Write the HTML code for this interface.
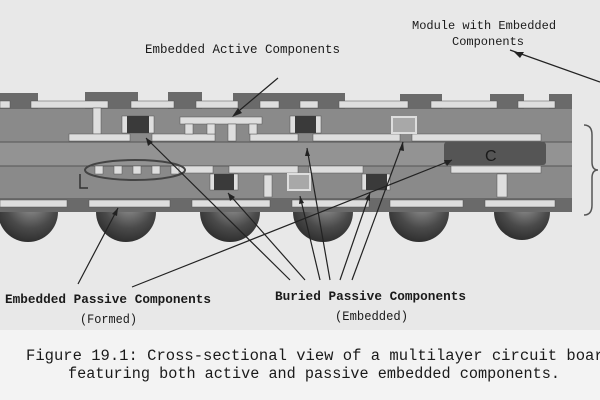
<!DOCTYPE html>
<html><head><meta charset="utf-8"><style>
html,body{margin:0;padding:0;width:600px;height:400px;overflow:hidden;background:#f1f1f1}
svg{display:block}
text{font-family:"Liberation Mono",monospace;fill:#1a1a1a}
</style></head><body>
<svg width="600" height="400" viewBox="0 0 600 400" xmlns="http://www.w3.org/2000/svg">
<defs>
<radialGradient id="ball" cx="0.55" cy="0.35" r="0.7"><stop offset="0" stop-color="#9a9a9a"/><stop offset="0.6" stop-color="#4a4a4a"/><stop offset="1" stop-color="#2a2a2a"/></radialGradient>
<clipPath id="bc"><rect x="0" y="208" width="600" height="60"/></clipPath>
</defs>
<rect x="0" y="0" width="600" height="330" fill="#e8e8e8"/>
<rect x="0" y="330" width="600" height="70" fill="#f3f3f3"/>
<g clip-path="url(#bc)" fill="url(#ball)">
<circle cx="28" cy="212" r="30"/><circle cx="126" cy="212" r="30"/><circle cx="230" cy="212" r="30"/>
<circle cx="323" cy="212" r="30"/><circle cx="419" cy="212" r="30"/><circle cx="522" cy="212" r="28"/>
</g>
<rect x="0" y="197" width="572" height="15" fill="#6a6a6a"/>
<rect x="0" y="108" width="572" height="90" fill="#8a8a8a"/>
<rect x="0" y="142" width="572" height="24" fill="#939393"/>
<line x1="0" y1="142" x2="572" y2="142" stroke="#555" stroke-width="1"/>
<line x1="0" y1="166" x2="572" y2="166" stroke="#555" stroke-width="1"/>
<line x1="0" y1="108" x2="572" y2="108" stroke="#444" stroke-width="1"/>
<g fill="#6a6a6a">
<rect x="0" y="93" width="38" height="16"/><rect x="85" y="92" width="53" height="17"/><rect x="168" y="92" width="34" height="17"/>
<rect x="233" y="93" width="112" height="16"/><rect x="400" y="94" width="42" height="15"/><rect x="490" y="94" width="34" height="15"/>
<rect x="549" y="94" width="23" height="15"/>
</g>
<g fill="#dedede" stroke="#555" stroke-width="0.5">
<rect x="0" y="101" width="10" height="7"/><rect x="31" y="101" width="77" height="7"/><rect x="131" y="101" width="43" height="7"/>
<rect x="196" y="101" width="42" height="7"/><rect x="260" y="101" width="19" height="7"/><rect x="300" y="101" width="18" height="7"/>
<rect x="339" y="101" width="69" height="7"/><rect x="431" y="101" width="66" height="7"/><rect x="518" y="101" width="37" height="7"/>
<rect x="93" y="108" width="8" height="26"/>
<rect x="69" y="134" width="61" height="7"/><rect x="152" y="134" width="63" height="7"/><rect x="250" y="134" width="48" height="7"/>
<rect x="313" y="134" width="87" height="7"/><rect x="412" y="134" width="129" height="7"/>
<rect x="180" y="117" width="82" height="7"/>
<rect x="185" y="124" width="8" height="10"/><rect x="207" y="124" width="8" height="10"/><rect x="228" y="124" width="8" height="17"/><rect x="249" y="124" width="8" height="10"/>
<rect x="122" y="116" width="32" height="17"/><rect x="290" y="116" width="31" height="17"/>
<rect x="171" y="166" width="42" height="7"/><rect x="229" y="166" width="69" height="7"/><rect x="309" y="166" width="54" height="7"/><rect x="451" y="166" width="90" height="7"/>
<rect x="95" y="166" width="8" height="8"/><rect x="114" y="166" width="8" height="8"/><rect x="133" y="166" width="8" height="8"/><rect x="152" y="166" width="8" height="8"/><rect x="171" y="166" width="8" height="8"/>
<rect x="210" y="174" width="28" height="16"/><rect x="362" y="174" width="28" height="16"/>
<rect x="264" y="175" width="8" height="22"/><rect x="497" y="174" width="10" height="23"/>
<rect x="0" y="200" width="67" height="7"/><rect x="89" y="200" width="81" height="7"/><rect x="192" y="200" width="78" height="7"/>
<rect x="292" y="200" width="77" height="7"/><rect x="390" y="200" width="73" height="7"/><rect x="485" y="200" width="70" height="7"/>
</g>
<g fill="#3a3a3a">
<rect x="127" y="116" width="22" height="17"/><rect x="295" y="116" width="21" height="17"/>
<rect x="214" y="174" width="20" height="16"/><rect x="366" y="174" width="21" height="16"/>
</g>
<g fill="#a8a8a8" stroke="#ddd" stroke-width="2">
<rect x="392" y="117" width="24" height="16"/><rect x="288" y="174" width="22" height="16"/>
</g>
<rect x="444" y="142" width="102" height="23" rx="3" fill="#555"/>
<text x="485" y="161" font-size="16" style="font-family:'Liberation Sans',sans-serif" fill="#222">C</text>
<ellipse cx="135" cy="170" rx="50" ry="10" fill="none" stroke="#444" stroke-width="2"/>
<path d="M80 174 V188 H88" fill="none" stroke="#333" stroke-width="1.5"/>
<path d="M584 125 Q592 125 592 135 V162 Q592 170 598 170 Q592 170 592 178 V205 Q592 215 584 215" fill="none" stroke="#555" stroke-width="1.5"/>
<g stroke="#222" stroke-width="1.2" fill="none">
<line x1="278" y1="78" x2="234" y2="115"/>
<line x1="510" y1="50" x2="600" y2="82"/>
<line x1="78" y1="284" x2="118" y2="208"/>
<line x1="132" y1="287" x2="452" y2="160"/>
<line x1="290" y1="280" x2="146" y2="138"/>
<line x1="305" y1="280" x2="228" y2="193"/>
<line x1="320" y1="280" x2="300" y2="196"/>
<line x1="330" y1="280" x2="307" y2="148"/>
<line x1="340" y1="280" x2="370" y2="193"/>
<line x1="352" y1="280" x2="403" y2="142"/>
</g>
<g fill="#222">
<polygon points="232,117 238,108 242,113"/>
<polygon points="514,52 524,52 520,58"/>
<polygon points="452,160 444,160 447,166"/>
<polygon points="146,138 148,146 153,142"/>
<polygon points="307,148 305,156 310,156"/>
<polygon points="403,142 399,150 404,151"/>
<polygon points="228,193 230,201 235,197"/>
<polygon points="300,196 299,204 304,203"/>
<polygon points="370,193 365,199 370,201"/>
<polygon points="118,208 112,214 117,216"/>
</g>
<text x="145" y="53" font-size="12.5">Embedded Active Components</text>
<text x="412" y="29" font-size="12">Module with Embedded</text>
<text x="452" y="45" font-size="12">Components</text>
<text x="5" y="303" font-size="12.5" font-weight="bold" textLength="206" lengthAdjust="spacingAndGlyphs">Embedded Passive Components</text>
<text x="80" y="323" font-size="12.5" textLength="57" lengthAdjust="spacingAndGlyphs">(Formed)</text>
<text x="275" y="300" font-size="12.5" font-weight="bold" textLength="191" lengthAdjust="spacingAndGlyphs">Buried Passive Components</text>
<text x="335" y="320" font-size="12.5" textLength="73" lengthAdjust="spacingAndGlyphs">(Embedded)</text>
<text x="26" y="360" font-size="15.5" textLength="587" lengthAdjust="spacingAndGlyphs">Figure 19.1: Cross-sectional view of a multilayer circuit board</text>
<text x="68" y="378" font-size="15.5" textLength="492" lengthAdjust="spacingAndGlyphs">featuring both active and passive embedded components.</text>
</svg>
</body></html>
